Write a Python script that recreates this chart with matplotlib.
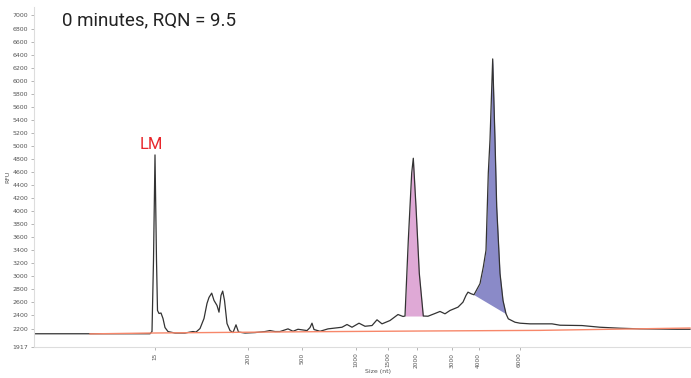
import numpy as np
import matplotlib.pyplot as plt

# ladder calibration: migration time (min) -> fragment size (nt)
ladder_sizes = [15, 200, 500, 1000, 1500, 2000, 3000, 4000, 6000]
ladder_times = [12.1, 21.4, 26.8, 32.15, 35.35, 38.25, 41.77, 44.45, 48.55]

# electropherogram trace (time, RFU)
trace_t = [0.0, 11.6, 11.8, 11.95, 12.1, 12.25, 12.35, 12.5, 12.7, 12.9, 13.1, 13.4,
           14.1, 15.1, 15.6, 15.9, 16.2, 16.6, 17.0, 17.3, 17.5, 17.77, 18.0, 18.3,
           18.5, 18.7, 18.87, 19.05, 19.3, 19.6, 19.9, 20.2, 20.45, 21.1, 22.1, 23.1,
           23.6, 24.1, 24.6, 25.4, 25.9, 26.4, 27.3, 27.6, 27.8, 28.0, 28.6, 29.4,
           30.3, 30.8, 31.3, 31.8, 32.5, 33.1, 33.8, 34.3, 34.8, 35.6, 36.4, 36.9,
           37.1, 37.43, 37.77, 37.93, 38.2, 38.53, 38.93, 39.4, 40.1, 40.6, 41.1, 41.6,
           42.4, 42.9, 43.2, 43.4, 43.7, 44.0, 44.6, 44.93, 45.2, 45.43, 45.6, 45.87,
           46.1, 46.27, 46.6, 46.9, 47.2, 47.43, 48.1, 48.6, 49.6, 51.8, 52.6, 54.8,
           56.6, 58.6, 60.6, 64.3, 65.6]
trace_rfu = [2120, 2120, 2154, 3246, 4862, 3246, 2477, 2431, 2438, 2354, 2215, 2154,
             2131, 2131, 2146, 2154, 2146, 2200, 2354, 2585, 2677, 2743, 2631, 2554,
             2451, 2708, 2774, 2631, 2277, 2169, 2138, 2257, 2146, 2131, 2138, 2154,
             2169, 2154, 2154, 2195, 2158, 2189, 2169, 2215, 2282, 2185, 2158, 2195,
             2211, 2220, 2262, 2220, 2282, 2235, 2246, 2334, 2272, 2323, 2415, 2385,
             2392, 3554, 4585, 4811, 4066, 3046, 2392, 2389, 2431, 2462, 2426, 2477,
             2528, 2605, 2708, 2758, 2734, 2718, 2888, 3143, 3400, 4585, 5092, 6334,
             5092, 4066, 3046, 2631, 2426, 2349, 2297, 2282, 2272, 2272, 2251, 2246,
             2220, 2205, 2195, 2189, 2189]

# baseline drawn by the software
base_t = [5.6, 11.6, 25.6, 38.6, 50.6, 65.6]
base_rfu = [2118, 2131, 2149, 2162, 2172, 2208]

# integrated peaks: (start time, end time)
peak_18s = (37.1, 38.93)
peak_28s = (44.0, 47.2)

yticks = [1917] + list(range(2200, 7001, 200))

t = np.array(trace_t)
rfu = np.array(trace_rfu)

fig = plt.figure(figsize=(6.91, 3.78), dpi=100)
ax = fig.add_axes([34 / 691, 1 - 347 / 378, 657 / 691, 340 / 378])

# 18S peak (pink), flat floor at its start level
m = (t >= peak_18s[0]) & (t <= peak_18s[1])
ax.fill_between(t[m], rfu[m], rfu[m][0], color='#dfa9d6', lw=0)

# 28S peak (blue), floor is a straight line between start and end
m = (t >= peak_28s[0]) & (t <= peak_28s[1])
floor = np.interp(t[m], [t[m][0], t[m][-1]], [rfu[m][0], rfu[m][-1]])
ax.fill_between(t[m], rfu[m], floor, color='#8a8ac8', lw=0)

ax.plot(t, rfu, color='#333333', lw=0.9)
ax.plot(base_t, base_rfu, color='#f7876a', lw=1.0)

ax.set_xlim(0, 65.7)
ax.set_ylim(1917, 7130)

ax.set_xticks(ladder_times)
ax.set_xticklabels([str(s) for s in ladder_sizes], rotation=90, fontsize=4.2, color='#555555')
ax.set_yticks(yticks)
ax.set_yticklabels([str(v) for v in yticks], fontsize=4.5, color='#555555')
ax.tick_params(axis='both', length=2.5, width=0.5, color='#999999', pad=1.5)

for side in ['top', 'right']:
    ax.spines[side].set_visible(False)
for side in ['left', 'bottom']:
    ax.spines[side].set_color('#dddddd')
    ax.spines[side].set_linewidth(0.8)

ax.set_ylabel('RFU', fontsize=4.5, color='#555555', labelpad=2)
fig.text(378 / 691, 1 - 371 / 378, 'Size (nt)', fontsize=4.5, color='#555555',
         ha='center', va='center')

# lower marker label
ax.annotate('LM', xy=(ladder_times[0], max(rfu[t < 14])), xytext=(-3, 2),
            textcoords='offset points', ha='center', va='bottom',
            fontsize=12, color='#e8262b', family='Roboto')

fig.text(62 / 691, 1 - 20 / 378, '0 minutes, RQN = 9.5', fontsize=13.5,
         family='Roboto', color='#222222', va='center', ha='left')

fig.savefig('out.png', dpi=100)
